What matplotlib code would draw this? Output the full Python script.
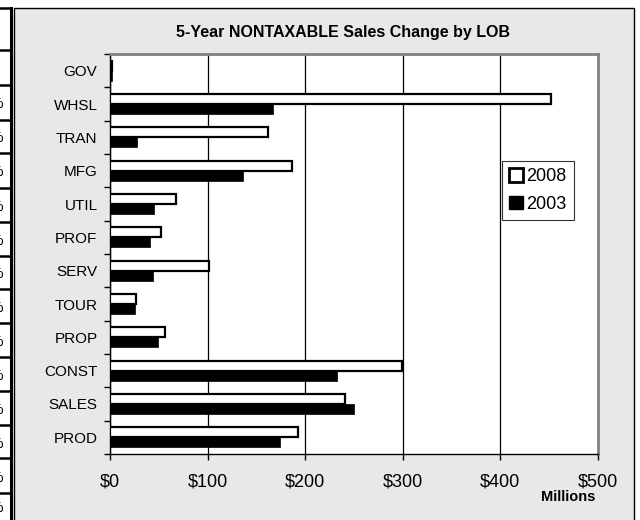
import matplotlib
matplotlib.use("Agg")
from matplotlib import pyplot as plt
from matplotlib.patches import Rectangle, Patch
from matplotlib.lines import Line2D
import numpy as np

plt.rcParams['font.family'] = ['Liberation Sans', 'DejaVu Sans']

# Data (millions of dollars)
categories = ['GOV', 'WHSL', 'TRAN', 'MFG', 'UTIL', 'PROF', 'SERV', 'TOUR', 'PROP', 'CONST', 'SALES', 'PROD']
sales_2008 = [2, 452, 162, 186, 68, 52, 101, 27, 56, 299, 241, 193]
sales_2003 = [2, 167, 28, 136, 45, 41, 44, 26, 49, 233, 250, 174]
x_ticks = [0, 100, 200, 300, 400, 500]
x_labels = ['$0', '$100', '$200', '$300', '$400', '$500']

W, H = 640, 520
fig = plt.figure(figsize=(W / 100, H / 100), dpi=100)
fig.patch.set_facecolor('white')

def fx(px):
    return px / W

def fy(py):
    return 1 - py / H

# Cut-off table on the left edge (only the tail of each "%" shows)
row_lines = [8, 50, 85, 120, 153, 188, 222, 256, 289, 323, 357, 391, 425, 458, 493]
for y in row_lines:
    fig.add_artist(Line2D([0, fx(11)], [fy(y), fy(y)], color='black', lw=1.8))
fig.add_artist(Line2D([fx(11), fx(11)], [fy(8), 0], color='black', lw=2.2))
for top, bot in zip(row_lines[2:], row_lines[3:] + [520]):
    fig.text(fx(3.5), fy((top + bot) / 2 + 2), '%', ha='right', va='center', fontsize=11)

# Chart area frame
fig.add_artist(Rectangle((fx(14), -0.02), fx(634) - fx(14), fy(8) + 0.02,
                         facecolor='#e8e8e8', edgecolor='black', lw=1, zorder=0))

ax = fig.add_axes([fx(110), fy(454), fx(598) - fx(110), fy(54) - fy(454)])
ax.set_facecolor('white')

y = np.arange(len(categories))
h = 0.3
ax.barh(y - h / 2, sales_2008, height=h, color='white', edgecolor='black', linewidth=1.6, label='2008', zorder=3)
ax.barh(y + h / 2, sales_2003, height=h, color='black', edgecolor='black', linewidth=0.5, label='2003', zorder=3)

ax.set_xlim(0, 500)
ax.set_ylim(len(categories) - 0.5, -0.5)
ax.set_xticks(x_ticks)
ax.set_xticklabels(x_labels, fontsize=13)
ax.tick_params(axis='x', direction='out', length=4, width=1, pad=10)
ax.xaxis.grid(True, color='black', lw=0.9)
ax.set_axisbelow(True)

# boundaries get tick marks, centres get labels
ax.set_yticks(np.arange(len(categories) + 1) - 0.5)
ax.set_yticklabels([])
ax.tick_params(axis='y', which='major', direction='out', length=4, width=1)
ax.set_yticks(y, minor=True)
ax.set_yticklabels(categories, minor=True, fontsize=11)
ax.tick_params(axis='y', which='minor', length=0, pad=9)

for side in ['top', 'right']:
    ax.spines[side].set_color('#808080')
    ax.spines[side].set_linewidth(2)
for side in ['left', 'bottom']:
    ax.spines[side].set_color('black')
    ax.spines[side].set_linewidth(1)

fig.text(fx(343), fy(33), '5-Year NONTAXABLE Sales Change by LOB', ha='center', va='center',
         fontsize=11.5, fontweight='bold')
fig.text(fx(568), fy(497), 'Millions', ha='center', va='center', fontsize=10.5, fontweight='bold')

handles = [Patch(facecolor='white', edgecolor='black', linewidth=2, label='2008'),
           Patch(facecolor='black', edgecolor='black', label='2003')]
leg = fig.legend(handles=handles, loc='upper left', bbox_to_anchor=(fx(502), fy(161)),
                 fontsize=13, frameon=True, fancybox=False, handlelength=0.75, handleheight=0.75,
                 handletextpad=0.2, borderpad=0.4, labelspacing=0.6, borderaxespad=0)
leg.get_frame().set_edgecolor('black')
leg.get_frame().set_linewidth(0.8)

fig.savefig('out.png', dpi=100, facecolor=fig.get_facecolor())
